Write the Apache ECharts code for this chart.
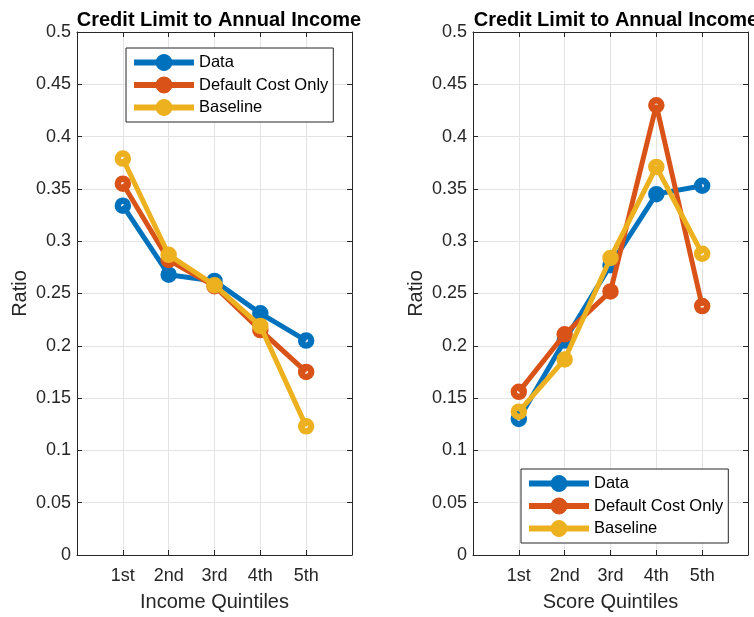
<!DOCTYPE html>
<html><head><meta charset="utf-8">
<script src="https://cdn.jsdelivr.net/npm/echarts@6/dist/echarts.min.js"></script>
<style>html,body{margin:0;padding:0;background:#fff}#c{width:754px;height:617px}</style>
</head><body><div id="c"></div>
<script>
const quintiles = ["1st", "2nd", "3rd", "4th", "5th"];
const yTicks = [0, 0.05, 0.1, 0.15, 0.2, 0.25, 0.3, 0.35, 0.4, 0.45, 0.5];
const seriesNames = ["Data", "Default Cost Only", "Baseline"];
// Left panel: income quintiles
const incomeData = [0.334, 0.268, 0.262, 0.231, 0.205];
const incomeDefault = [0.355, 0.282, 0.257, 0.215, 0.175];
const incomeBaseline = [0.379, 0.287, 0.258, 0.219, 0.123];
// Right panel: score quintiles
const scoreData = [0.130, 0.205, 0.277, 0.345, 0.353];
const scoreDefault = [0.156, 0.211, 0.252, 0.430, 0.238];
const scoreBaseline = [0.137, 0.187, 0.284, 0.371, 0.288];

const colors = ["#0072BD", "#D95319", "#EDB120"];
const txt = "#262626";
const FONT = "Liberation Sans, Arial, Helvetica, sans-serif";

const chart = echarts.init(document.getElementById('c'), null, {renderer: 'canvas'});

function pts(arr) { return arr.map((v, i) => [i + 1, v]); }

function xAx(gi, name, show) {
  return {
    type: 'value', gridIndex: gi, min: 0, max: 6, interval: 1,
    position: show ? 'bottom' : 'top',
    name: show ? name : '', nameLocation: 'middle', nameGap: 37,
    nameTextStyle: {fontSize: 20, color: txt, fontFamily: FONT},
    axisLine: {show: true, onZero: false, lineStyle: {color: txt, width: 1}},
    axisTick: {show: true, inside: true, length: 5, lineStyle: {color: txt}},
    axisLabel: {show: show, fontSize: 18, color: txt, fontFamily: FONT, margin: 12,
      formatter: v => (v >= 1 && v <= 5) ? quintiles[v - 1] : ''},
    splitLine: {show: show, lineStyle: {color: '#e3e3e3', width: 1}}
  };
}
function yAx(gi, show) {
  return {
    type: 'value', gridIndex: gi, min: yTicks[0], max: yTicks[yTicks.length - 1],
    interval: yTicks[1] - yTicks[0],
    position: show ? 'left' : 'right',
    name: show ? 'Ratio' : '', nameLocation: 'middle', nameGap: 47,
    nameTextStyle: {fontSize: 20, color: txt, fontFamily: FONT},
    axisLine: {show: true, onZero: false, lineStyle: {color: txt, width: 1}},
    axisTick: {show: true, inside: true, length: 5, lineStyle: {color: txt}},
    axisLabel: {show: show, fontSize: 18, color: txt, fontFamily: FONT, margin: 6,
      formatter: v => String(Math.round(v * 100) / 100)},
    splitLine: {show: show, lineStyle: {color: '#e3e3e3', width: 1}}
  };
}
function ser(name, data, gi, ci) {
  return {
    name: name, type: 'line', xAxisIndex: gi * 2, yAxisIndex: gi * 2,
    data: pts(data), symbol: 'circle', symbolSize: 10,
    lineStyle: {color: colors[ci], width: 5},
    itemStyle: {color: 'rgba(255,255,255,0)', borderColor: colors[ci], borderWidth: 6.5},
    emphasis: {disabled: true}, animation: false, z: 2 + ci
  };
}

const legendBase = {
  orient: 'vertical', itemWidth: 60, itemHeight: 20, itemGap: 5.5,
  padding: [6, 5, 6, 5], borderColor: txt, borderWidth: 1, backgroundColor: '#fff',
  lineStyle: {width: 6},
  textStyle: {fontSize: 16.5, color: '#000', fontFamily: FONT},
  data: seriesNames.map((n, i) => ({name: n, itemStyle: {color: colors[i], borderColor: colors[i], borderWidth: 1}})),
  selectedMode: false
};

const option = {
  animation: false,
  backgroundColor: '#fff',
  title: [
    {text: 'Credit Limit to Annual Income', left: 214, top: 5, textAlign: 'center',
      textStyle: {fontSize: 20, fontWeight: 'bold', color: '#000', fontFamily: FONT}},
    {text: 'Credit Limit to Annual Income', left: 611, top: 5, textAlign: 'center',
      textStyle: {fontSize: 20, fontWeight: 'bold', color: '#000', fontFamily: FONT}}
  ],
  grid: [
    {left: 77, top: 32, width: 275, height: 527},
    {left: 473, top: 32, width: 275, height: 527}
  ],
  xAxis: [xAx(0, 'Income Quintiles', true), xAx(0, '', false), xAx(1, 'Score Quintiles', true), xAx(1, '', false)],
  yAxis: [yAx(0, true), yAx(0, false), yAx(1, true), yAx(1, false)],
  legend: [
    Object.assign({}, legendBase, {left: 126, top: 48}),
    Object.assign({}, legendBase, {left: 521, top: 469})
  ],
  series: [
    ser(seriesNames[0], incomeData, 0, 0),
    ser(seriesNames[1], incomeDefault, 0, 1),
    ser(seriesNames[2], incomeBaseline, 0, 2),
    ser(seriesNames[0], scoreData, 1, 0),
    ser(seriesNames[1], scoreDefault, 1, 1),
    ser(seriesNames[2], scoreBaseline, 1, 2)
  ]
};
chart.setOption(option);
</script></body></html>
